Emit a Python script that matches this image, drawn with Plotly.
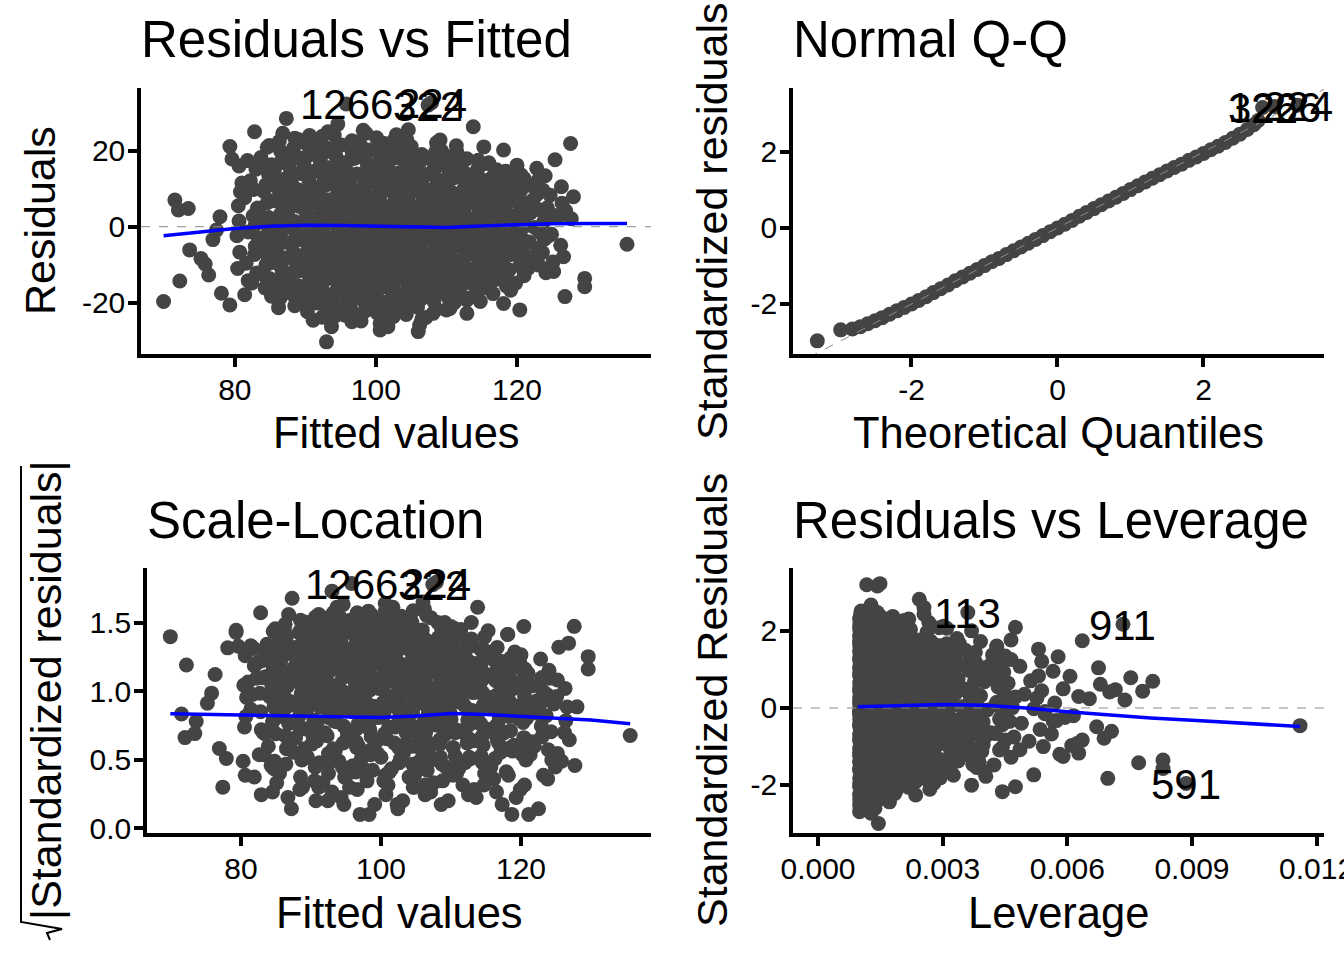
import math
import plotly.graph_objects as go

# ---------------- data ----------------
# first six rows are the labelled observations
OBS_IDS = ["1266", "322", "224", "113", "911", "591"]

FITTED = [
    95.8, 107.4, 107.9, 82.8, 127.6, 69.9,
    # outlying / edge points
    71.5, 72.0, 73.4, 72.2, 73.6, 77.9, 78.1, 79.3, 81.4, 79.3,
    87.3, 86.8, 88.5, 93.2, 98.2, 104.4, 109.1, 113.8, 118.1, 125.4,
    122.8, 126.3, 128.0, 135.6, 129.6, 129.6, 126.8, 120.4, 118.1, 121.6,
    126.6, 106.2, 106.0, 100.6, 101.7, 93.0, 93.7, 89.2, 86.1, 112.9,
    114.8, 112.9, 110.5, 108.1, 118.4, 79.6, 80.6, 81.0, 75.8, 76.9,
    126.9, 124.7, 127.7, 123.9, 125.2, 76.3, 77.4, 75.2, 111.4, 116.0,
    95.6, 97.7, 102.4, 110.0, 90.6, 84.6, 119.7, 123.0, 81.9, 83.5,
    # core cloud
    82.4, 81.6, 82.9, 81.9, 82.6, 81.4, 82.2, 81.8,
    84.3, 83.6, 84.7, 83.9, 84.5, 83.4, 84.1, 84.8, 83.7,
    86.2, 85.7, 86.6, 85.9, 86.4, 85.5, 86.8, 86.0, 85.6, 86.5,
    88.1, 87.6, 88.7, 87.8, 88.4, 87.5, 88.6, 88.0, 87.7, 88.3,
    90.3, 89.7, 90.6, 89.9, 90.4, 89.5, 90.7, 90.1, 89.6, 90.5, 89.8, 90.2,
    91.8, 92.4, 91.6, 92.7, 92.0, 92.5, 91.7, 92.3, 91.9, 92.6, 92.1, 91.5,
    94.2, 93.7, 94.6, 93.9, 94.4, 93.5, 94.7, 94.0, 93.6, 94.5, 93.8, 94.3, 94.1,
    96.4, 95.8, 96.2, 95.6, 96.7, 96.0, 95.5, 96.5, 95.9, 96.3, 95.7, 96.6,
    97.9, 98.5, 97.6, 98.3, 97.8, 98.6, 98.0, 97.5, 98.4, 97.7, 98.2, 98.7, 97.9,
    100.2, 99.6, 100.5, 99.8, 100.4, 99.5, 100.7, 100.0, 99.7, 100.3, 99.9, 100.6, 100.1,
    101.8, 102.3, 101.6, 102.6, 102.0, 101.5, 102.4, 101.9, 102.7, 102.1, 101.7, 102.5,
    104.3, 103.7, 104.6, 103.9, 104.4, 103.5, 104.7, 104.0, 103.6, 104.5, 103.8, 104.2, 103.9,
    105.9, 106.4, 105.6, 106.6, 106.1, 105.5, 106.3, 105.8, 106.7, 106.0, 105.7, 106.5,
    108.2, 107.6, 108.5, 107.8, 108.4, 107.5, 108.7, 108.0, 107.7, 108.3, 107.9, 108.6,
    110.1, 109.7, 110.5, 109.9, 110.3, 109.6, 110.6, 110.0, 109.8, 110.4, 110.2,
    111.8, 112.3, 111.6, 112.5, 112.0, 111.7, 112.4, 111.9, 112.6, 112.1, 111.5,
    114.2, 113.7, 114.5, 113.9, 114.3, 113.6, 114.6, 114.0, 113.8, 114.4,
    115.9, 116.4, 115.6, 116.6, 116.1, 115.7, 116.3, 115.8, 116.5, 116.0,
    118.3, 117.7, 118.5, 117.9, 118.2, 117.6, 118.4, 118.0,
    119.8, 120.4, 119.6, 120.2, 119.9, 120.5, 119.7, 120.3, 120.0,
    122.2, 121.7, 122.5, 121.9, 122.3, 121.6,
    124.1, 123.6, 124.4, 123.8, 124.3, 123.7, 124.0,
    126.2, 125.8, 126.4,
    83.1, 82.8, 83.3, 82.9, 83.2, 82.7, 83.0,
    85.2, 84.9, 85.3, 85.0, 85.1, 84.8, 85.4, 85.0, 85.2, 84.9,
    87.1, 86.9, 87.3, 87.0, 87.2, 86.8, 87.1, 87.4, 86.9,
    89.0, 89.2, 88.9, 89.3, 89.1, 88.8, 89.2, 89.0, 89.3, 88.9, 89.1,
    91.1, 90.9, 91.2, 91.0, 91.3, 90.8, 91.1, 91.2, 90.9, 91.0, 91.3, 91.1,
    93.0, 93.2, 92.9, 93.1, 93.3, 92.8, 93.0, 93.2, 93.1, 92.9, 93.3, 93.0,
    95.1, 94.9, 95.2, 95.0, 95.3, 94.8, 95.1, 95.2, 94.9, 95.0, 95.3, 95.1,
    97.0, 97.2, 96.9, 97.1, 97.3, 96.8, 97.0, 97.2, 97.1, 96.9, 97.3, 97.0, 97.2,
    99.1, 98.9, 99.2, 99.0, 99.3, 98.8, 99.1, 99.2, 98.9, 99.0, 99.3, 99.1,
    101.0, 101.2, 100.9, 101.1, 101.3, 100.8, 101.0, 101.2, 101.1, 100.9, 101.3, 101.0, 101.2,
    103.1, 102.9, 103.2, 103.0, 103.3, 102.8, 103.1, 103.2, 102.9, 103.0, 103.3, 103.1, 102.9,
    105.0, 105.2, 104.9, 105.1, 105.3, 104.8, 105.0, 105.2, 105.1, 104.9, 105.3, 105.0,
    107.1, 106.9, 107.2, 107.0, 107.3, 106.8, 107.1, 107.2, 106.9, 107.0, 107.3, 107.1,
    109.0, 109.2, 108.9, 109.1, 109.3, 108.8, 109.0, 109.2, 109.1, 108.9, 109.3,
    111.1, 110.9, 111.2, 111.0, 111.3, 110.8, 111.1, 111.2, 110.9, 111.0, 111.3,
    113.0, 113.2, 112.9, 113.1, 113.3, 112.8, 113.0, 113.2, 113.1, 112.9,
    115.1, 114.9, 115.2, 115.0, 115.3, 114.8, 115.1, 115.2, 114.9, 115.0, 115.3,
    117.0, 117.2, 116.9, 117.1, 117.3, 116.8, 117.0, 117.2, 117.1,
    119.1, 118.9, 119.2, 119.0, 119.3, 118.8, 119.1, 119.2,
    121.0, 121.2, 120.9, 121.1, 121.3, 120.8, 121.0,
    123.1, 122.9, 123.2, 123.0, 122.8,
    125.1, 124.9, 125.2,
    84.6, 84.4, 84.5, 84.7, 84.3, 84.6, 84.4, 84.5,
    86.4, 86.6, 86.5, 86.3, 86.7, 86.5, 86.4, 86.6, 86.5, 86.3,
    88.5, 88.3, 88.6, 88.4, 88.7, 88.5, 88.3, 88.6, 88.4, 88.5, 88.7,
    90.6, 90.4, 90.5, 90.7, 90.3, 90.5, 90.6, 90.4, 90.5, 90.7, 90.3, 90.6,
    92.4, 92.6, 92.5, 92.3, 92.7, 92.5, 92.4, 92.6, 92.5, 92.3, 92.7, 92.5, 92.4,
    94.5, 94.3, 94.6, 94.4, 94.7, 94.5, 94.3, 94.6, 94.4, 94.5, 94.7, 94.3, 94.6,
    96.6, 96.4, 96.5, 96.7, 96.3, 96.5, 96.6, 96.4, 96.5, 96.7, 96.3, 96.5, 96.6,
    98.5, 98.3, 98.6, 98.4, 98.7, 98.5, 98.3, 98.6, 98.4, 98.5, 98.7, 98.3, 98.6,
    100.6, 100.4, 100.5, 100.7, 100.3, 100.5, 100.6, 100.4, 100.5, 100.7, 100.3, 100.5, 100.6,
    102.5, 102.3, 102.6, 102.4, 102.7, 102.5, 102.3, 102.6, 102.4, 102.5, 102.7, 102.3, 102.6,
    104.6, 104.4, 104.5, 104.7, 104.3, 104.5, 104.6, 104.4, 104.5, 104.7, 104.3, 104.5, 104.6,
    106.5, 106.3, 106.6, 106.4, 106.7, 106.5, 106.3, 106.6, 106.4, 106.5, 106.7, 106.3,
    108.6, 108.4, 108.5, 108.7, 108.3, 108.5, 108.6, 108.4, 108.5, 108.7, 108.3, 108.5,
    110.5, 110.3, 110.6, 110.4, 110.7, 110.5, 110.3, 110.6, 110.4, 110.5, 110.7,
    112.6, 112.4, 112.5, 112.7, 112.3, 112.5, 112.6, 112.4, 112.5, 112.7, 112.3,
    114.5, 114.3, 114.6, 114.4, 114.7, 114.5, 114.3, 114.6, 114.4, 114.5,
    116.6, 116.4, 116.5, 116.7, 116.3, 116.5, 116.6, 116.4, 116.5,
    118.5, 118.3, 118.6, 118.4, 118.7, 118.5, 118.3, 118.6, 118.4,
    120.6, 120.4, 120.5, 120.7, 120.3, 120.5, 120.6,
    80.4, 80.7, 80.3, 80.6, 80.5, 80.8,
]

RESID = [
    32.3, 32.0, 32.6, 25.0, 21.9, -19.7,
    7.0, 4.4, 4.8, -14.3, -6.1, 2.6, -17.5, -20.6, -17.9, 21.1,
    28.5, 24.6, 23.3, 25.0, 25.4, 22.8, 22.8, 26.3, 20.2, 17.6,
    15.4, 10.5, 7.9, -4.6, -13.6, -15.8, -18.4, -21.9, -20.2, -10.9,
    -7.9, -25.9, -27.6, -27.2, -26.3, -30.3, -26.3, -19.7, -18.8, -19.3,
    -19.7, -22.8, -21.5, -22.8, -14.0, 17.8, 16.0, 11.5, -9.8, -3.4,
    4.2, 8.3, 2.1, -3.3, -11.8, -12.7, -0.9, -8.4, 21.3, 16.6,
    -23.3, -23.7, -22.1, -21.9, 24.0, 20.9, 13.9, 12.2, -14.2, 16.9,
    -14.8, -9.6, -5.2, -1.4, 2.9, 7.6, 12.1, 17.4,
    -16.1, -12.4, -7.9, -3.6, 0.7, 4.8, 9.3, 13.6, 18.2,
    -21.3, -15.2, -10.8, -6.7, -2.2, 1.6, 5.9, 10.4, 14.7, 19.8,
    -17.7, -13.9, -9.1, -4.4, -0.8, 3.1, 7.2, 11.6, 15.9, 20.6,
    -22.4, -18.6, -14.5, -10.2, -6.3, -2.7, 0.4, 3.8, 7.9, 12.3, 16.5, 21.8,
    -20.1, -16.8, -12.6, -8.4, -4.9, -1.6, 1.1, 4.6, 8.8, 13.2, 17.3, 22.6,
    -23.5, -19.2, -15.3, -11.1, -7.4, -3.3, -0.3, 2.4, 6.1, 10.1, 14.4, 18.7, 24.1,
    -21.6, -17.4, -13.7, -9.8, -5.8, -2.1, 0.9, 3.5, 7.3, 11.4, 15.6, 19.9,
    -24.8, -20.3, -16.2, -12.2, -8.6, -4.5, -1.2, 1.9, 5.2, 9.0, 12.9, 17.1, 21.2,
    -22.7, -18.4, -14.1, -10.5, -6.9, -3.0, -0.6, 2.7, 6.6, 10.7, 14.9, 18.9, 23.4,
    -20.6, -16.9, -12.8, -9.2, -5.5, -1.9, 0.2, 3.9, 7.8, 11.9, 16.1, 20.4,
    -23.1, -18.9, -15.0, -11.3, -7.6, -3.8, -0.9, 1.4, 4.9, 8.5, 12.6, 17.0, 20.9,
    -21.2, -17.1, -13.3, -9.6, -6.0, -2.4, 0.6, 3.3, 6.9, 10.8, 14.8, 19.0,
    -19.6, -15.8, -12.0, -8.1, -4.2, -1.1, 2.2, 5.7, 9.6, 13.5, 17.6, 22.1,
    -18.2, -14.6, -10.9, -7.1, -3.5, -0.4, 2.8, 6.4, 10.2, 14.1, 18.4,
    -16.5, -12.9, -9.4, -5.7, -2.3, 1.0, 4.4, 8.1, 11.8, 15.7, 19.6,
    -17.3, -13.5, -9.9, -6.2, -2.8, 0.5, 3.7, 7.4, 11.2, 15.1,
    -15.4, -11.7, -8.0, -4.6, -1.3, 2.0, 5.5, 9.2, 13.0, 16.8,
    -12.6, -8.8, -5.1, -1.7, 1.5, 4.9, 8.6, 12.4,
    -14.9, -10.3, -6.5, -2.9, 0.8, 4.3, 8.0, 11.9, 16.2,
    -8.7, -4.0, -0.2, 3.6, 7.1, 10.9,
    -12.1, -6.8, -2.5, 1.3, 5.0, 9.6, 13.4,
    -4.9, 2.4, 6.2,
    -12.2, -7.3, -2.9, 0.6, 4.9, 9.8, 15.1,
    -18.3, -13.6, -9.4, -4.8, -1.1, 2.4, 6.8, 11.7, 16.3, 21.4,
    -16.4, -12.1, -8.2, -3.9, -0.2, 3.7, 8.6, 12.9, 17.8,
    -20.2, -15.7, -11.8, -7.7, -3.4, 0.9, 5.3, 9.7, 14.0, 18.3, 22.9,
    -24.6, -19.1, -15.9, -12.0, -7.9, -4.1, -0.9, 2.3, 6.1, 10.3, 14.6, 19.4,
    -22.0, -17.9, -13.8, -9.9, -6.2, -2.4, 0.7, 3.4, 7.1, 11.0, 15.5, 20.7,
    -20.7, -16.4, -12.5, -8.7, -4.7, -1.4, 1.5, 4.8, 8.6, 12.6, 16.9, 21.5,
    -23.0, -18.8, -14.8, -10.9, -7.0, -3.6, -0.1, 2.6, 5.9, 9.8, 13.9, 18.0, 22.3,
    -19.5, -15.5, -11.6, -7.8, -4.0, -1.8, 0.3, 4.1, 8.0, 11.9, 16.0, 20.2,
    -24.0, -19.9, -15.8, -11.7, -8.0, -4.3, -1.0, 1.7, 5.5, 9.4, 13.5, 17.7, 21.9,
    -21.8, -17.5, -13.6, -10.0, -6.4, -2.6, 0.4, 3.0, 6.3, 10.0, 14.1, 18.1, 24.2,
    -19.3, -15.4, -11.8, -8.3, -4.6, -1.5, 2.1, 5.4, 9.1, 13.1, 17.3, 21.1,
    -23.9, -18.0, -14.3, -10.6, -7.2, -3.4, -0.7, 2.5, 6.0, 9.9, 13.8, 18.2,
    -16.9, -13.1, -9.5, -5.9, -2.0, 1.2, 4.6, 8.3, 12.0, 16.2, 20.0,
    -20.0, -15.9, -12.3, -8.6, -5.0, -1.6, 1.9, 5.1, 8.9, 12.8, 16.6,
    -14.7, -11.1, -7.5, -4.1, -0.8, 2.6, 6.0, 9.9, 13.7, 17.9,
    -16.2, -12.3, -8.8, -5.3, -1.9, 1.6, 5.0, 8.7, 12.5, 16.4, 21.0,
    -13.9, -10.2, -6.6, -3.1, 0.3, 3.9, 7.6, 11.3, 15.0,
    -16.7, -11.4, -7.3, -3.7, -0.5, 3.2, 6.9, 10.6,
    -12.9, -7.6, -3.5, 0.1, 2.9, 6.5, 12.7,
    -10.1, -5.6, -1.5, 4.5, 8.4,
    -9.3, -2.0, 3.0,
    -14.0, -10.1, -6.0, -1.9, 2.1, 6.3, 11.0, 15.8,
    -18.9, -13.0, -8.9, -4.6, -0.5, 3.4, 7.8, 12.1, 16.9, 22.4,
    -20.8, -15.4, -11.3, -6.9, -2.5, 1.4, 5.6, 9.8, 13.8, 18.0, 22.0,
    -20.4, -16.6, -12.8, -8.8, -4.5, -1.2, 2.0, 5.8, 9.9, 14.2, 18.6, 23.5,
    -23.8, -18.3, -14.6, -10.6, -6.6, -3.0, -0.4, 2.8, 6.6, 10.9, 15.1, 19.2, 23.8,
    -21.4, -17.2, -13.4, -9.3, -5.6, -2.0, 0.5, 3.9, 8.0, 12.2, 16.5, 20.9, 27.0,
    -25.0, -19.6, -15.5, -11.8, -7.6, -4.0, -0.8, 1.7, 5.3, 9.3, 13.5, 17.8, 22.6,
    -22.2, -18.1, -14.2, -10.3, -6.4, -2.9, 0.1, 3.3, 7.0, 11.0, 15.0, 19.3, 24.6,
    -25.4, -20.5, -16.3, -12.4, -8.5, -4.8, -1.5, 1.2, 4.6, 8.6, 12.7, 16.9, 21.0,
    -23.6, -18.6, -14.7, -10.8, -7.1, -3.5, -0.3, 2.3, 5.9, 9.7, 13.9, 18.3, 22.8,
    -21.0, -16.7, -13.1, -9.4, -5.7, -2.2, 0.9, 3.6, 7.2, 10.9, 15.0, 19.4, 25.5,
    -24.4, -19.2, -15.2, -11.5, -7.8, -4.1, -1.0, 1.8, 5.0, 8.8, 12.9, 17.2,
    -21.7, -17.4, -13.9, -10.1, -6.3, -2.7, 0.3, 3.8, 7.5, 11.5, 15.6, 19.8,
    -20.3, -16.4, -12.6, -8.9, -5.2, -1.8, 1.5, 4.9, 8.6, 12.4, 16.3,
    -18.6, -14.4, -10.8, -7.3, -3.9, -0.6, 2.7, 6.3, 10.0, 13.9, 17.7,
    -15.2, -11.6, -8.1, -4.5, -1.0, 2.3, 5.8, 9.6, 13.4, 17.5,
    -17.6, -13.2, -9.5, -5.9, -2.6, 0.7, 4.2, 7.9, 11.8,
    -15.6, -10.7, -7.0, -3.3, -0.1, 3.5, 6.7, 10.3, 14.6,
    -8.4, -4.4, -1.0, 2.5, 6.0, 9.4, 13.6,
    -11.0, -6.7, -2.4, 1.5, 5.5, 9.2,
]

# model constants
SIGMA = 10.1          # residual standard error
N_OBS = 1000          # number of observations
F_MEAN = 100.3        # mean fitted value
SXX = 117550.0        # sum of squares of fitted about the mean

# loess smooth curves
RVF_SMOOTH_X = [69.9, 75, 80, 85, 90, 95, 100, 105, 110, 115, 120, 125, 130, 135.6]
RVF_SMOOTH_Y = [-2.4, -1.4, -0.5, 0.1, 0.4, 0.3, 0.1, -0.1, -0.2, 0.2, 0.6, 0.8, 0.85, 0.85]
SL_SMOOTH_X = [69.9, 80, 90, 100, 105, 110, 115, 122.7, 130, 135.6]
SL_SMOOTH_Y = [0.835, 0.825, 0.815, 0.808, 0.82, 0.838, 0.83, 0.81, 0.79, 0.762]
LEV_SMOOTH_X = [0.00096, 0.002, 0.003, 0.004, 0.005, 0.006, 0.007, 0.008, 0.009, 0.010, 0.0116]
LEV_SMOOTH_Y = [0.03, 0.06, 0.09, 0.07, 0.0, -0.1, -0.19, -0.26, -0.32, -0.38, -0.48]

# normal Q-Q points
QQ_THEORETICAL = [-3.29, -2.97, -2.81, -2.70, -2.60, -2.50, -2.40, -2.30, -2.20, -2.10,
                  -2.00, -1.90, -1.80, -1.70, -1.60, -1.50, -1.40, -1.30, -1.20, -1.10,
                  -1.00, -0.90, -0.80, -0.70, -0.60, -0.50, -0.40, -0.30, -0.20, -0.10,
                  0.00, 0.10, 0.20, 0.30, 0.40, 0.50, 0.60, 0.70, 0.80, 0.90,
                  1.00, 1.10, 1.20, 1.30, 1.40, 1.50, 1.60, 1.70, 1.80, 1.90,
                  2.00, 2.10, 2.20, 2.30, 2.40, 2.50, 2.60, 2.69, 2.75, 2.81, 2.97, 3.29]
QQ_SAMPLE = [-2.97, -2.68, -2.66, -2.60, -2.52, -2.44, -2.36, -2.27, -2.18, -2.09,
             -2.00, -1.91, -1.81, -1.70, -1.60, -1.50, -1.39, -1.29, -1.19, -1.09,
             -0.99, -0.89, -0.80, -0.70, -0.60, -0.50, -0.40, -0.30, -0.20, -0.10,
             0.00, 0.10, 0.20, 0.31, 0.41, 0.51, 0.61, 0.71, 0.81, 0.91,
             1.01, 1.11, 1.21, 1.31, 1.40, 1.50, 1.59, 1.68, 1.78, 1.87,
             1.96, 2.06, 2.15, 2.25, 2.36, 2.47, 2.59, 2.72, 2.83, 3.17, 3.20, 3.23]
QQ_LABELS = ["322", "1266", "224"]      # last three Q-Q points

TOP_RESID_IDS = ["1266", "322", "224"]
COOK_IDS = ["113", "911", "591"]

# tick labels
FIT_TICKS = [80, 100, 120]
FIT_TICKTEXT = ["80", "100", "120"]
RES_TICKS = [-20, 0, 20]
RES_TICKTEXT = ["-20", "0", "20"]
STD_TICKS = [-2, 0, 2]
STD_TICKTEXT = ["-2", "0", "2"]
SL_TICKS = [0.0, 0.5, 1.0, 1.5]
SL_TICKTEXT = ["0.0", "0.5", "1.0", "1.5"]
LEV_TICKS = [0.0, 0.003, 0.006, 0.009, 0.012]
LEV_TICKTEXT = ["0.000", "0.003", "0.006", "0.009", "0.012"]

# ---------------- derived statistics ----------------
assert len(FITTED) == len(RESID), (len(FITTED), len(RESID))
leverage = [1.0 / N_OBS + (f - F_MEAN) ** 2 / SXX for f in FITTED]
std_resid = [r / (SIGMA * math.sqrt(1 - h)) for r, h in zip(RESID, leverage)]
sqrt_abs = [math.sqrt(abs(s)) for s in std_resid]

# ---------------- figure ----------------
W, H = 1344, 960
FONT = "Liberation Sans, Arial, sans-serif"
PT = "#444444"


def fx(p):
    return p / W


def fy(p):
    return 1 - p / H


# panel boxes in pixels (left, right, top, bottom)
BOX = {
    1: (141, 651, 88, 354),
    2: (793, 1324, 88, 354),
    3: (147, 651, 568, 833),
    4: (793, 1324, 568, 833),
}
RANGES = {
    1: ([66.7, 139.0], [-33.5, 36.5]),
    2: ([-3.623, 3.651], [-3.316, 3.684]),
    3: ([66.57, 138.57], [-0.0366, 1.902]),
    4: ([-0.000602, 0.012178], [-3.247, 3.636]),
}
TICKS = {
    1: ((FIT_TICKS, FIT_TICKTEXT), (RES_TICKS, RES_TICKTEXT)),
    2: ((STD_TICKS, STD_TICKTEXT), (STD_TICKS, STD_TICKTEXT)),
    3: ((FIT_TICKS, FIT_TICKTEXT), (SL_TICKS, SL_TICKTEXT)),
    4: ((LEV_TICKS, LEV_TICKTEXT), (STD_TICKS, STD_TICKTEXT)),
}

fig = go.Figure()

idx = {name: i for i, name in enumerate(OBS_IDS)}


def ax(k):
    return ("x" if k == 1 else f"x{k}"), ("y" if k == 1 else f"y{k}")


def pts(k, xs, ys):
    xa, ya = ax(k)
    fig.add_trace(go.Scatter(x=xs, y=ys, mode="markers", xaxis=xa, yaxis=ya,
                             marker=dict(size=15, color=PT, line=dict(width=0)),
                             hoverinfo="skip", showlegend=False))


def line(k, xs, ys, color, width, dash="solid"):
    xa, ya = ax(k)
    fig.add_trace(go.Scatter(x=xs, y=ys, mode="lines", xaxis=xa, yaxis=ya,
                             line=dict(color=color, width=width, dash=dash),
                             hoverinfo="skip", showlegend=False))


ann = []


def labels(k, xs, ys, texts):
    xa, ya = ax(k)
    for x, y, t in zip(xs, ys, texts):
        ann.append(dict(text=t, x=x, y=y, xref=xa, yref=ya, showarrow=False,
                        xanchor="center", yanchor="middle", yshift=-1,
                        font=dict(family=FONT, size=42, color="black")))


# Panel 1: residuals vs fitted
pts(1, FITTED, RESID)
line(1, RANGES[1][0], [0, 0], "#8c8c8c", 1, "dash")
line(1, RVF_SMOOTH_X, RVF_SMOOTH_Y, "#0000ff", 3.5)
labels(1, [FITTED[idx[n]] for n in TOP_RESID_IDS], [RESID[idx[n]] for n in TOP_RESID_IDS], TOP_RESID_IDS)

# Panel 2: normal Q-Q
pts(2, QQ_THEORETICAL, QQ_SAMPLE)
line(2, RANGES[2][0], RANGES[2][0], "#8c8c8c", 1, "dash")
labels(2, QQ_THEORETICAL[-3:], QQ_SAMPLE[-3:], QQ_LABELS)

# Panel 3: scale-location
pts(3, FITTED, sqrt_abs)
line(3, SL_SMOOTH_X, SL_SMOOTH_Y, "#0000ff", 3.5)
labels(3, [FITTED[idx[n]] for n in TOP_RESID_IDS], [sqrt_abs[idx[n]] for n in TOP_RESID_IDS], TOP_RESID_IDS)

# Panel 4: residuals vs leverage
pts(4, leverage, std_resid)
line(4, RANGES[4][0], [0, 0], "#8c8c8c", 1, "dash")
line(4, LEV_SMOOTH_X, LEV_SMOOTH_Y, "#0000ff", 3.5)
labels(4, [leverage[idx[n]] for n in COOK_IDS], [std_resid[idx[n]] for n in COOK_IDS], COOK_IDS)

layout = dict(
    width=W, height=H, margin=dict(l=0, r=0, t=0, b=0, autoexpand=False),
    paper_bgcolor="white", plot_bgcolor="white", showlegend=False,
    font=dict(family=FONT, color="black"),
)
for k in (1, 2, 3, 4):
    l, r, t, b = BOX[k]
    (xt, xtt), (yt, ytt) = TICKS[k]
    common = dict(showline=True, linecolor="black", linewidth=3.5, ticks="outside",
                  ticklen=9, tickwidth=3.5, tickcolor="black", showgrid=False,
                  zeroline=False, fixedrange=True, automargin=False,
                  ticklabeloverflow="allow", ticklabelstandoff=-3,
                  tickfont=dict(family=FONT, size=30, color="black"))
    xa, ya = ax(k)
    layout["xaxis" if k == 1 else f"xaxis{k}"] = dict(
        common, domain=[fx(l), fx(r)], range=RANGES[k][0], anchor=ya,
        tickvals=xt, ticktext=xtt)
    layout["yaxis" if k == 1 else f"yaxis{k}"] = dict(
        common, domain=[fy(b), fy(t)], range=RANGES[k][1], anchor=xa,
        tickvals=yt, ticktext=ytt)

fig.update_layout(**layout)


def txt(text, x, y, size, angle=0, xanchor="center"):
    ann.append(dict(text=text, x=fx(x), y=fy(y), xref="paper", yref="paper",
                    showarrow=False, textangle=angle, xanchor=xanchor, yanchor="middle",
                    font=dict(family=FONT, size=size, color="black")))


# panel titles
txt("Residuals vs Fitted", 139, 40, 51, xanchor="left")
txt("Normal Q-Q", 791, 40, 51, xanchor="left")
txt("Scale-Location", 145, 520, 51, xanchor="left")
txt("Residuals vs Leverage", 791, 520, 51, xanchor="left")
# x axis titles
txt("Fitted values", 396, 433, 43.5)
txt("Theoretical Quantiles", 1058, 433, 43.5)
txt("Fitted values", 399, 913, 43.5)
txt("Leverage", 1058, 913, 43.5)
# y axis titles
txt("Residuals", 40, 221, 43, angle=-90)
txt("Standardized residuals", 712, 222, 43, angle=-90)
txt("|Standardized residuals|", 46, 690, 43, angle=-90)
txt("Standardized Residuals", 712, 700, 43, angle=-90)

# radical sign of the sqrt in the scale-location y title
rad = [(21, 466), (21, 922), (62, 929), (47, 933), (50, 940)]
path = "M " + " L ".join(f"{fx(a):.5f},{fy(b):.5f}" for a, b in rad)
fig.update_layout(annotations=ann, shapes=[dict(type="path", path=path, xref="paper", yref="paper",
                                               line=dict(color="black", width=2))])

fig.write_html("out.html", config={"displayModeBar": False},
               post_script="document.body.style.margin='0';document.body.style.overflow='hidden';")
